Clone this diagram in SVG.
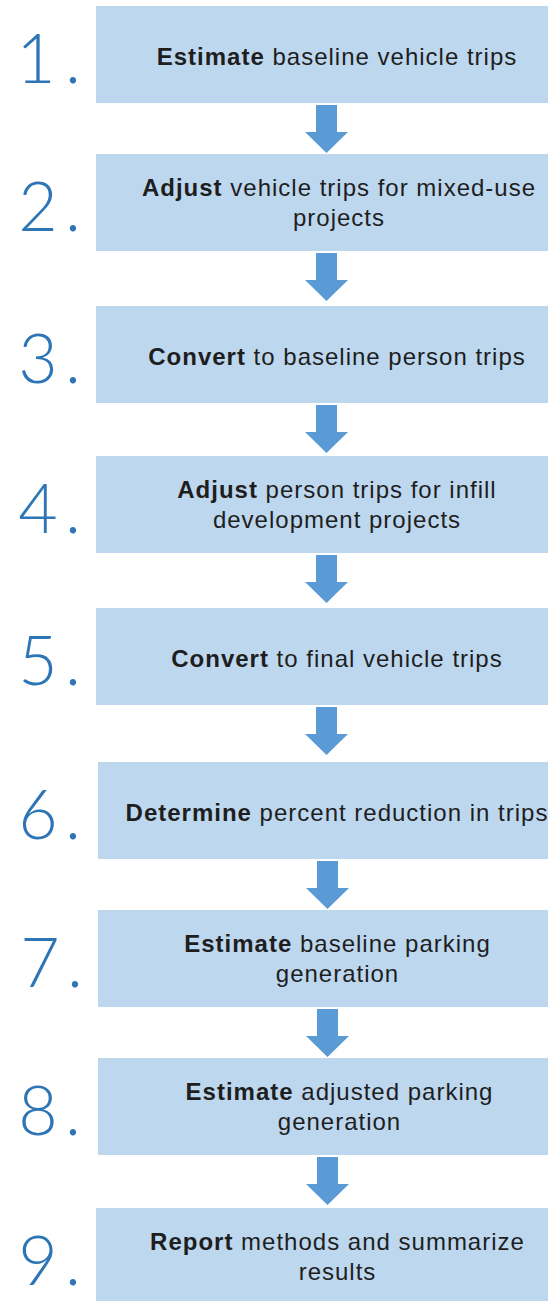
<svg xmlns="http://www.w3.org/2000/svg" width="548" height="1301" viewBox="0 0 548 1301">
  <style>
    .box { fill: #bdd7ee; }
    .arrow { fill: #5b9bd5; }
    .num { font-family: Lato, "Open Sans", "DejaVu Sans", sans-serif; font-weight: 300; font-size: 68px; fill: #2e75b6; text-anchor: middle; }
    .label { font-family: "Liberation Sans", Arial, sans-serif; font-size: 24px; letter-spacing: 1px; fill: #1e1e1e; text-anchor: middle; }
    .label .b { font-weight: bold; }
  </style>
  <defs>
    <!-- block arrow: 21px shaft, 43px head, 48px tall overall -->
    <path id="down" class="arrow" d="M-10.5 0 H10.5 V27 H21.5 L0 48 L-21.5 27 H-10.5 Z"/>
  </defs>

  <rect width="548" height="1301" fill="#ffffff"/>

  <g id="connectors">
    <use href="#down" x="326.5" y="105"/>
    <use href="#down" x="326.5" y="253"/>
    <use href="#down" x="326.5" y="405"/>
    <use href="#down" x="326.5" y="555"/>
    <use href="#down" x="326.5" y="707"/>
    <use href="#down" x="327.5" y="861"/>
    <use href="#down" x="327.5" y="1009"/>
    <use href="#down" x="327.5" y="1157"/>
  </g>

  <g id="step1">
    <rect class="box" x="96" y="6" width="460" height="97"/>
    <text class="num"><tspan x="36" y="83">1</tspan><tspan x="73" y="83">.</tspan></text>
    <text class="label" x="337" y="64.5"><tspan class="b">Estimate</tspan> baseline vehicle trips</text>
  </g>

  <g id="step2">
    <rect class="box" x="96" y="154" width="460" height="97"/>
    <text class="num"><tspan x="38" y="231">2</tspan><tspan x="73" y="231">.</tspan></text>
    <text class="label" x="339" y="196"><tspan class="b">Adjust</tspan> vehicle trips for mixed-use</text>
    <text class="label" x="339" y="226">projects</text>
  </g>

  <g id="step3">
    <rect class="box" x="96" y="306" width="460" height="97"/>
    <text class="num"><tspan x="38" y="383">3</tspan><tspan x="73" y="383">.</tspan></text>
    <text class="label" x="337" y="364.5"><tspan class="b">Convert</tspan> to baseline person trips</text>
  </g>

  <g id="step4">
    <rect class="box" x="96" y="456" width="460" height="97"/>
    <text class="num"><tspan x="38" y="533">4</tspan><tspan x="73" y="533">.</tspan></text>
    <text class="label" x="337" y="498"><tspan class="b">Adjust</tspan> person trips for infill</text>
    <text class="label" x="337" y="528">development projects</text>
  </g>

  <g id="step5">
    <rect class="box" x="96" y="608" width="460" height="97"/>
    <text class="num"><tspan x="38" y="685">5</tspan><tspan x="73" y="685">.</tspan></text>
    <text class="label" x="337" y="666.5"><tspan class="b">Convert</tspan> to final vehicle trips</text>
  </g>

  <g id="step6">
    <rect class="box" x="98" y="762" width="460" height="97"/>
    <text class="num"><tspan x="38" y="839">6</tspan><tspan x="73" y="839">.</tspan></text>
    <text class="label" x="337" y="820.5"><tspan class="b">Determine</tspan> percent reduction in trips</text>
  </g>

  <g id="step7">
    <rect class="box" x="98" y="910" width="460" height="97"/>
    <text class="num"><tspan x="40" y="987">7</tspan><tspan x="75" y="987">.</tspan></text>
    <text class="label" x="337.5" y="952"><tspan class="b">Estimate</tspan> baseline parking</text>
    <text class="label" x="337.5" y="982">generation</text>
  </g>

  <g id="step8">
    <rect class="box" x="98" y="1058" width="460" height="97"/>
    <text class="num"><tspan x="38" y="1135">8</tspan><tspan x="73" y="1135">.</tspan></text>
    <text class="label" x="339.5" y="1100"><tspan class="b">Estimate</tspan> adjusted parking</text>
    <text class="label" x="339.5" y="1130">generation</text>
  </g>

  <g id="step9">
    <rect class="box" x="96" y="1208" width="460" height="97"/>
    <text class="num"><tspan x="38" y="1285">9</tspan><tspan x="73" y="1285">.</tspan></text>
    <text class="label" x="337.5" y="1250"><tspan class="b">Report</tspan> methods and summarize</text>
    <text class="label" x="337.5" y="1280">results</text>
  </g>
</svg>
